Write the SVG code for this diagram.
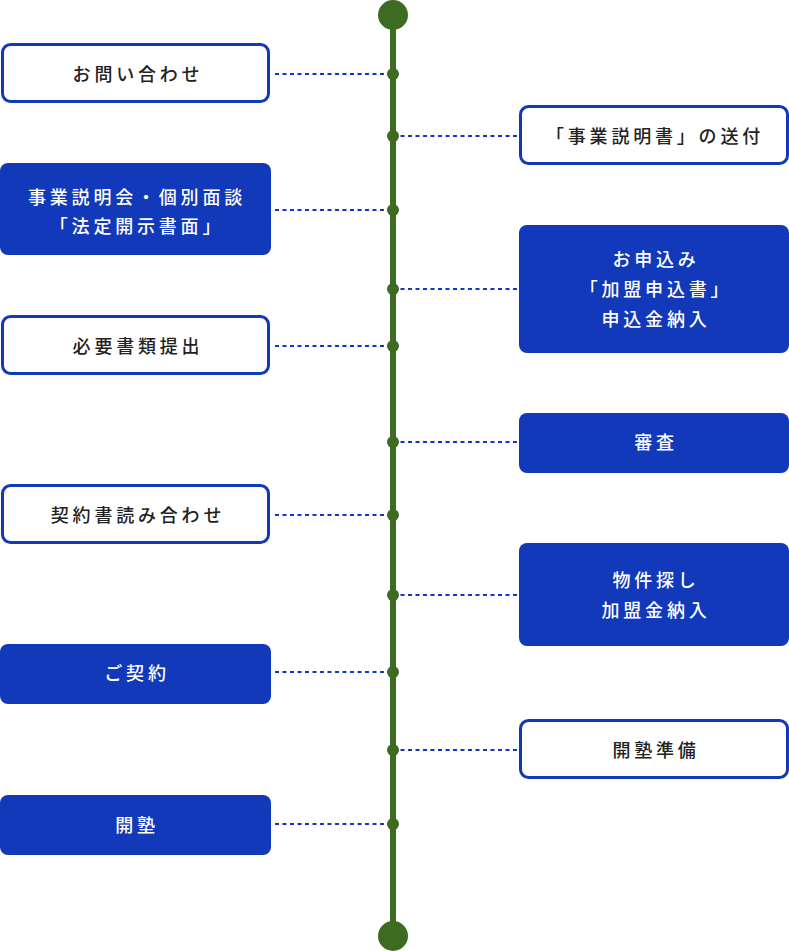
<svg xmlns="http://www.w3.org/2000/svg" width="789" height="951" viewBox="0 0 789 951">
<style>
.ob{fill:#fff;stroke:#1139b9;stroke-width:3}
.fb{fill:#1139b9}
.t{font-family:"Noto Sans CJK JP","Noto Sans",sans-serif;font-size:18px;font-weight:500;letter-spacing:3.8px;text-anchor:middle;dominant-baseline:central}
.dk{fill:#222}
.wt{fill:#fff}
.dl{stroke:#1139b9;stroke-width:2;stroke-dasharray:4 3.5;fill:none}
.dot{fill:#3d6b21}
</style>
<g id="timeline">
<line x1="393" y1="15" x2="393" y2="936" stroke="#3d6b21" stroke-width="6"/>
<circle class="dot" cx="393" cy="15" r="15"/>
<circle class="dot" cx="393" cy="936" r="15"/>
</g>
<g id="connectors">
<line class="dl" x1="275" y1="74" x2="393" y2="74"/>
<line class="dl" x1="393" y1="136" x2="519" y2="136"/>
<line class="dl" x1="275" y1="210" x2="393" y2="210"/>
<line class="dl" x1="393" y1="289" x2="519" y2="289"/>
<line class="dl" x1="275" y1="346" x2="393" y2="346"/>
<line class="dl" x1="393" y1="442" x2="519" y2="442"/>
<line class="dl" x1="275" y1="515" x2="393" y2="515"/>
<line class="dl" x1="393" y1="595" x2="519" y2="595"/>
<line class="dl" x1="275" y1="672" x2="393" y2="672"/>
<line class="dl" x1="393" y1="750" x2="519" y2="750"/>
<line class="dl" x1="275" y1="824" x2="393" y2="824"/>
<circle class="dot" cx="393" cy="74" r="6"/>
<circle class="dot" cx="393" cy="136" r="6"/>
<circle class="dot" cx="393" cy="210" r="6"/>
<circle class="dot" cx="393" cy="289" r="6"/>
<circle class="dot" cx="393" cy="346" r="6"/>
<circle class="dot" cx="393" cy="442" r="6"/>
<circle class="dot" cx="393" cy="515" r="6"/>
<circle class="dot" cx="393" cy="595" r="6"/>
<circle class="dot" cx="393" cy="672" r="6"/>
<circle class="dot" cx="393" cy="750" r="6"/>
<circle class="dot" cx="393" cy="824" r="6"/>
</g>
<g id="n1">
<rect class="ob" x="2.5" y="44.5" width="266" height="57" rx="8"/>
<text class="t dk" x="138" y="73">お問い合わせ</text>
</g>
<g id="n2">
<rect class="ob" x="520.5" y="106.5" width="267" height="57" rx="8"/>
<text class="t dk" x="655" y="135">「事業説明書」の送付</text>
</g>
<g id="n3">
<rect class="fb" x="0" y="163" width="271" height="92" rx="8"/>
<text class="t wt" x="137" y="196">事業説明会・個別面談</text>
<text class="t wt" x="137" y="225">「法定開示書面」</text>
</g>
<g id="n4">
<rect class="fb" x="519" y="225" width="270" height="128" rx="8"/>
<text class="t wt" x="656" y="258">お申込み</text>
<text class="t wt" x="656" y="288">「加盟申込書」</text>
<text class="t wt" x="656" y="318">申込金納入</text>
</g>
<g id="n5">
<rect class="ob" x="2.5" y="316.5" width="266" height="57" rx="8"/>
<text class="t dk" x="138" y="345">必要書類提出</text>
</g>
<g id="n6">
<rect class="fb" x="519" y="413" width="270" height="60" rx="8"/>
<text class="t wt" x="656" y="441">審査</text>
</g>
<g id="n7">
<rect class="ob" x="2.5" y="485.5" width="266" height="57" rx="8"/>
<text class="t dk" x="138" y="514">契約書読み合わせ</text>
</g>
<g id="n8">
<rect class="fb" x="519" y="543" width="270" height="103" rx="8"/>
<text class="t wt" x="656" y="579">物件探し</text>
<text class="t wt" x="656" y="609">加盟金納入</text>
</g>
<g id="n9">
<rect class="fb" x="0" y="644" width="271" height="60" rx="8"/>
<text class="t wt" x="137" y="672">ご契約</text>
</g>
<g id="n10">
<rect class="ob" x="520.5" y="720.5" width="267" height="57" rx="8"/>
<text class="t dk" x="656" y="749">開塾準備</text>
</g>
<g id="n11">
<rect class="fb" x="0" y="795" width="271" height="60" rx="8"/>
<text class="t wt" x="137" y="824">開塾</text>
</g>
</svg>
